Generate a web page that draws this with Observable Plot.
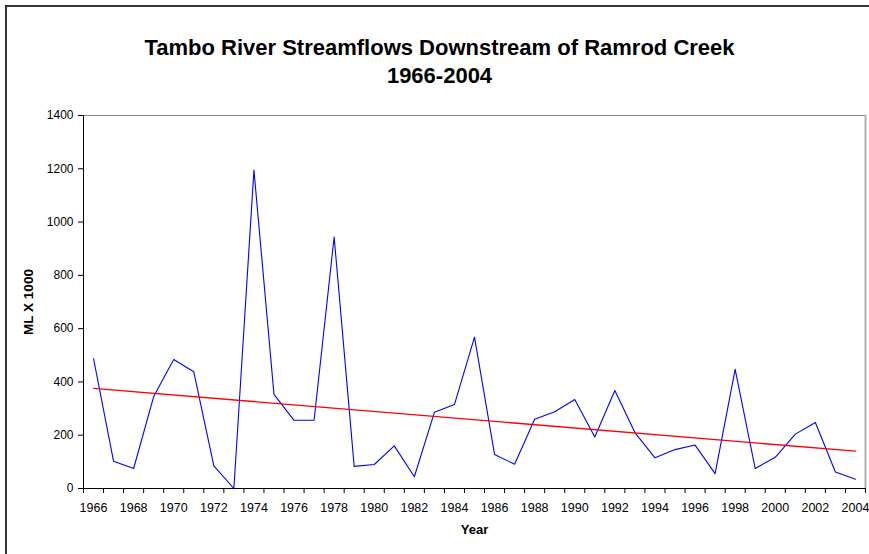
<!DOCTYPE html>
<html>
<head>
<meta charset="utf-8">
<script src="https://cdn.jsdelivr.net/npm/d3@7"></script>
<script src="https://cdn.jsdelivr.net/npm/@observablehq/plot@0.6"></script>
<style>
  html, body { margin: 0; padding: 0; background: #fff; }
  #wrap { position: relative; width: 869px; height: 554px; overflow: hidden; font-family: Arial, "Liberation Sans", sans-serif; }
  #border { position: absolute; left: 5px; top: 5px; right: -10px; bottom: -10px; border-left: 2px solid #333; border-top: 2px solid #333; }
  #chart { position: absolute; left: 0; top: 0; }
</style>
</head>
<body>
<div id="wrap"><div id="border"></div><div id="chart"></div></div>
<script>
const years = [1966,1967,1968,1969,1970,1971,1972,1973,1974,1975,1976,1977,1978,1979,1980,1981,1982,1983,1984,1985,1986,1987,1988,1989,1990,1991,1992,1993,1994,1995,1996,1997,1998,1999,2000,2001,2002,2003,2004];
const flows = [488,102,75,345,484,438,85,0,1195,353,256,256,944,83,90,160,44,286,315,568,128,91,260,288,334,193,368,210,115,146,163,56,447,75,117,204,248,62,35];
const trendYears = [1966, 2004];
const trendValues = [376, 140];
const yTicks = [0,200,400,600,800,1000,1200,1400];
const xLabelYears = [1966,1968,1970,1972,1974,1976,1978,1980,1982,1984,1986,1988,1990,1992,1994,1996,1998,2000,2002,2004];
const titleLines = ["Tambo River Streamflows Downstream of Ramrod Creek", "1966-2004"];
const xTitle = "Year";
const yTitle = "ML X 1000";

const data = years.map((y, i) => ({year: y, flow: flows[i]}));
const trend = trendYears.map((y, i) => ({year: y, flow: trendValues[i]}));
const boundaries = years.map(y => y - 0.5).concat([years[years.length - 1] + 0.5]);

const font = "Arial, 'Liberation Sans', sans-serif";

const chart = Plot.plot({
  width: 869,
  height: 554,
  marginLeft: 83,
  marginRight: 4,
  marginTop: 115,
  marginBottom: 66,
  style: {fontFamily: font, background: "transparent", overflow: "visible"},
  x: {domain: [years[0] - 0.5, years[years.length - 1] + 0.5]},
  y: {domain: [0, 1400]},
  marks: [
    Plot.ruleY([1400], {stroke: "#888", strokeWidth: 1}),
    Plot.ruleX([years[years.length - 1] + 0.5], {stroke: "#b0b0b0", strokeWidth: 2}),
    Plot.axisY({ticks: yTicks, tickSize: 5, tickPadding: 5, fontSize: 12, tickFormat: d => String(d), stroke: "#000", color: "#000", strokeOpacity: 1, label: null}),
    Plot.axisX({ticks: boundaries, tickSize: 5, tickFormat: () => "", stroke: "#000", strokeOpacity: 1, label: null}),
    Plot.axisX({ticks: xLabelYears, tickSize: 0, tickPadding: 15, fontSize: 12.5, tickFormat: d => String(d), color: "#000", label: null}),
    Plot.ruleX([years[0] - 0.5], {stroke: "#000", strokeWidth: 1}),
    Plot.ruleY([0], {stroke: "#000", strokeWidth: 1}),
    Plot.line(data, {x: "year", y: "flow", stroke: "#0000ff", strokeWidth: 1.1}),
    Plot.line(trend, {x: "year", y: "flow", stroke: "#ff0000", strokeWidth: 1.3}),
    Plot.text([titleLines[0]], {frameAnchor: "top", dx: -35, dy: -76, fontSize: 22, fontWeight: "bold", fill: "#000", text: d => d}),
    Plot.text([titleLines[1]], {frameAnchor: "top", dx: -35, dy: -48.5, fontSize: 22, fontWeight: "bold", fill: "#000", text: d => d}),
    Plot.text([xTitle], {frameAnchor: "bottom", dy: 45, fontSize: 13, fontWeight: "bold", fill: "#000", text: d => d}),
    Plot.text([yTitle], {frameAnchor: "left", dx: -55, rotate: -90, textAnchor: "middle", fontSize: 13.5, fontWeight: "bold", fill: "#000", text: d => d})
  ]
});
document.getElementById("chart").appendChild(chart);
</script>
</body>
</html>
